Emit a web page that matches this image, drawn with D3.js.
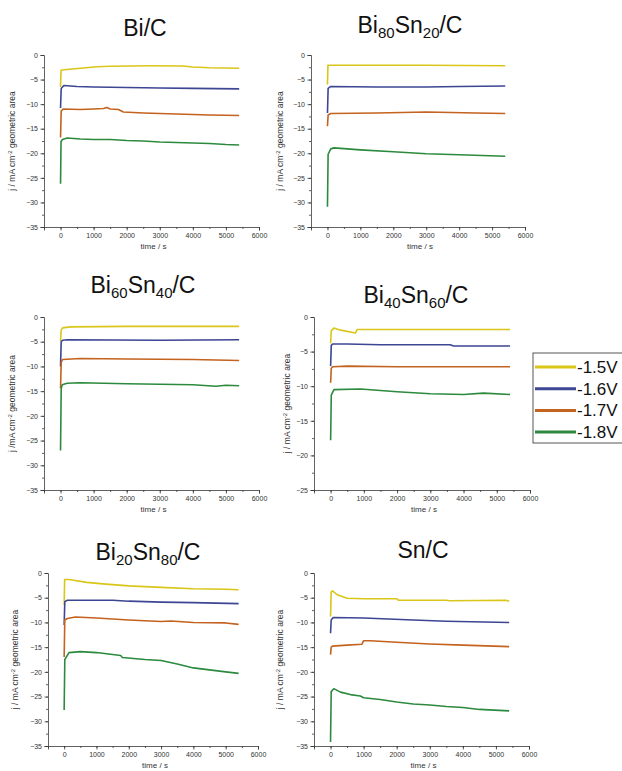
<!DOCTYPE html>
<html lang="en">
<head>
<meta charset="utf-8" />
<style>
  body { margin: 0; background: #fff; }
  text { font-family: "Liberation Sans", Arial, sans-serif; }
  .axis path, .axis line { stroke: #3a3a3a; stroke-width: 0.8; }
  .axis text { fill: #333; font-size: 7px; }
  .series { fill: none; stroke-width: 1.6; stroke-linejoin: round; }
</style>
</head>
<body>
<svg width="622" height="771"></svg>
<script src="https://d3js.org/d3.v7.min.js"></script>
<script>
var potentials = ["-1.5V", "-1.6V", "-1.7V", "-1.8V"],
    colors = ["#d9c619", "#3c4693", "#c4621f", "#2c8a3e"],
    timeTicks = [0, 1000, 2000, 3000, 4000, 5000, 6000];

// each series: [time / s, j / mA cm-2], order -1.5, -1.6, -1.7, -1.8 V
var biC = [
  [[0,-6.5],[15,-3.1],[100,-3.0],[600,-2.7],[1100,-2.4],[1500,-2.3],[2700,-2.2],[3700,-2.25],[4000,-2.45],[4500,-2.6],[5400,-2.7]],
  [[0,-10.8],[20,-6.8],[100,-6.2],[500,-6.4],[1000,-6.5],[2000,-6.6],[3000,-6.7],[4000,-6.8],[5400,-6.9]],
  [[0,-16.8],[20,-11.4],[80,-11.0],[600,-11.1],[1000,-11.0],[1300,-10.9],[1400,-10.7],[1500,-11.0],[1750,-11.1],[1900,-11.6],[2500,-11.8],[3000,-11.9],[3500,-12.0],[4000,-12.1],[4500,-12.2],[5400,-12.3]],
  [[0,-26.2],[15,-17.6],[60,-17.2],[200,-16.9],[600,-17.1],[1000,-17.2],[1500,-17.2],[2000,-17.4],[2500,-17.5],[3000,-17.7],[3500,-17.8],[4000,-17.9],[4500,-18.0],[5000,-18.2],[5400,-18.3]]
];

var bi80sn20 = [
  [[0,-6.0],[15,-2.1],[1000,-2.1],[3000,-2.1],[5400,-2.2]],
  [[0,-11.8],[20,-6.8],[100,-6.4],[1500,-6.5],[3000,-6.5],[4000,-6.4],[5400,-6.3]],
  [[0,-14.5],[20,-12.2],[100,-11.9],[1500,-11.8],[3000,-11.6],[4500,-11.8],[5400,-11.9]],
  [[0,-30.9],[20,-20.2],[100,-19.1],[200,-18.9],[1000,-19.3],[2000,-19.7],[3000,-20.1],[4000,-20.3],[5400,-20.6]]
];

var bi60sn40 = [
  [[0,-4.9],[20,-2.6],[60,-2.2],[300,-2.0],[2000,-1.9],[5400,-1.9]],
  [[0,-10.0],[20,-5.0],[60,-4.7],[200,-4.6],[3000,-4.7],[5400,-4.6]],
  [[0,-14.4],[20,-9.2],[60,-8.6],[600,-8.4],[2000,-8.5],[4000,-8.6],[5400,-8.8]],
  [[0,-27.0],[20,-14.5],[50,-13.7],[200,-13.4],[600,-13.3],[2000,-13.5],[3000,-13.6],[4000,-13.7],[4700,-14.0],[5000,-13.8],[5400,-13.9]]
];

var bi40sn60 = [
  [[0,-3.8],[20,-2.0],[100,-1.6],[300,-1.9],[750,-2.3],[800,-1.8],[5400,-1.8]],
  [[0,-7.1],[20,-4.1],[60,-3.9],[500,-3.9],[1500,-4.0],[3600,-4.0],[3700,-4.2],[5400,-4.2]],
  [[0,-9.5],[20,-7.4],[60,-7.2],[500,-7.1],[2000,-7.2],[5400,-7.2]],
  [[0,-17.8],[20,-11.3],[100,-10.5],[900,-10.4],[2000,-10.8],[3000,-11.1],[4000,-11.2],[4600,-11.0],[5400,-11.2]]
];

var bi20sn80 = [
  [[0,-6.5],[15,-1.3],[150,-1.3],[700,-1.9],[1200,-2.2],[2000,-2.6],[3000,-2.9],[4000,-3.2],[5000,-3.3],[5400,-3.4]],
  [[0,-10.5],[20,-5.8],[100,-5.5],[1500,-5.5],[2000,-5.7],[3000,-5.9],[4000,-6.0],[5400,-6.2]],
  [[0,-17.0],[20,-9.5],[100,-9.2],[350,-8.9],[1000,-9.1],[2000,-9.5],[3000,-9.8],[3300,-9.7],[4000,-10.0],[5000,-10.1],[5400,-10.4]],
  [[0,-27.7],[20,-17.5],[150,-16.1],[500,-15.9],[1000,-16.1],[1500,-16.5],[1750,-16.7],[1800,-17.1],[2500,-17.5],[3000,-17.7],[3500,-18.4],[4000,-19.2],[4500,-19.6],[5000,-20.0],[5400,-20.3]]
];

var snC = [
  [[0,-8.8],[20,-3.8],[60,-3.6],[200,-4.4],[500,-5.1],[1000,-5.2],[2000,-5.2],[2050,-5.5],[3500,-5.5],[3600,-5.6],[5300,-5.5],[5400,-5.7]],
  [[0,-12.2],[20,-9.5],[80,-9.0],[1000,-9.1],[2500,-9.5],[3500,-9.75],[5400,-10.0]],
  [[0,-16.5],[20,-15.0],[60,-14.8],[500,-14.6],[950,-14.4],[1000,-13.7],[1200,-13.7],[2000,-14.0],[3000,-14.35],[4000,-14.6],[5400,-14.9]],
  [[0,-34.2],[20,-24.0],[100,-23.4],[300,-24.1],[600,-24.6],[900,-24.9],[1000,-25.25],[1500,-25.6],[2000,-26.1],[2500,-26.5],[3000,-26.7],[3500,-27.0],[4000,-27.2],[4500,-27.6],[5400,-27.9]]
];

// title pieces: [text, subscript?]
var titles = [
  [["Bi/C", 0]],
  [["Bi", 0], ["80", 1], ["Sn", 0], ["20", 1], ["/C", 0]],
  [["Bi", 0], ["60", 1], ["Sn", 0], ["40", 1], ["/C", 0]],
  [["Bi", 0], ["40", 1], ["Sn", 0], ["60", 1], ["/C", 0]],
  [["Bi", 0], ["20", 1], ["Sn", 0], ["80", 1], ["/C", 0]],
  [["Sn/C", 0]]
];

var panels = [
  { data: biC,      title: titles[0], left: 44,  right: 259, top: 55,  bottom: 227, ymin: -35, tx: 145, ty: 36,  lx: 15,  lab: "j / mA cm" },
  { data: bi80sn20, title: titles[1], left: 311, right: 525, top: 55,  bottom: 227, ymin: -35, tx: 410, ty: 33,  lx: 283, lab: "j / mA cm" },
  { data: bi60sn40, title: titles[2], left: 44,  right: 259, top: 317, bottom: 490, ymin: -35, tx: 143, ty: 293, lx: 15,  lab: "j /mA cm" },
  { data: bi40sn60, title: titles[3], left: 314, right: 530, top: 317, bottom: 490, ymin: -25, tx: 416, ty: 303, lx: 290, lab: "j / mA cm" },
  { data: bi20sn80, title: titles[4], left: 48,  right: 258, top: 573, bottom: 746, ymin: -35, tx: 148, ty: 560, lx: 18,  lab: "j / mA cm" },
  { data: snC,      title: titles[5], left: 314, right: 529, top: 573, bottom: 746, ymin: -35, tx: 423, ty: 558, lx: 283, lab: "j / mA cm" }
];

var svg = d3.select("svg");

panels.forEach(function(p) {
  var x = d3.scaleLinear().domain([-500, 6000]).range([p.left, p.right]),
      y = d3.scaleLinear().domain([0, p.ymin]).range([p.top, p.bottom]),
      g = svg.append("g");

  // minor ticks first, then majors with labels
  g.append("g").attr("class", "axis")
    .attr("transform", "translate(0," + p.bottom + ")")
    .call(d3.axisBottom(x).tickValues(d3.range(-500, 6001, 500)).tickSize(2).tickFormat(""))
    .select(".domain").remove();
  g.append("g").attr("class", "axis")
    .attr("transform", "translate(0," + p.bottom + ")")
    .call(d3.axisBottom(x).tickValues(timeTicks).tickSizeOuter(0).tickSize(3.5).tickPadding(3).tickFormat(d3.format("d")));

  g.append("g").attr("class", "axis")
    .attr("transform", "translate(" + p.left + ",0)")
    .call(d3.axisLeft(y).tickValues(d3.range(0, p.ymin - 0.1, -2.5)).tickSize(2).tickFormat(""))
    .select(".domain").remove();
  g.append("g").attr("class", "axis")
    .attr("transform", "translate(" + p.left + ",0)")
    .call(d3.axisLeft(y).tickValues(d3.range(0, p.ymin - 0.1, -5)).tickSizeOuter(0).tickSize(3.5).tickPadding(2.5).tickFormat(d3.format("d")));

  var line = d3.line().x(function(d) { return x(d[0]); }).y(function(d) { return y(d[1]); });

  g.selectAll("path.series")
    .data(p.data)
    .enter()
    .append("path")
    .attr("class", "series")
    .attr("d", line)
    .style("stroke", function(d, i) { return colors[i]; });

  // title
  var t = g.append("text")
    .attr("x", p.tx).attr("y", p.ty)
    .attr("text-anchor", "middle")
    .style("font-size", "23px").style("fill", "#111");
  p.title.forEach(function(part, i) {
    var prevSub = i > 0 && p.title[i - 1][1];
    t.append("tspan")
      .attr("dy", part[1] ? 5 : (prevSub ? -5 : 0))
      .style("font-size", part[1] ? "15px" : "23px")
      .text(part[0]);
  });

  // axis labels
  g.append("text")
    .attr("x", (p.left + p.right) / 2 + 2).attr("y", p.bottom + 22)
    .attr("text-anchor", "middle")
    .style("font-size", "8px").style("fill", "#333")
    .text("time / s");

  var yl = g.append("text")
    .attr("transform", "translate(" + p.lx + "," + (p.top + p.bottom) / 2 + ") rotate(-90)")
    .attr("text-anchor", "middle")
    .style("font-size", "8.5px").style("fill", "#333");
  yl.append("tspan").text(p.lab);
  yl.append("tspan").attr("dy", -3).style("font-size", "6px").text("-2");
  yl.append("tspan").attr("dy", 3).text(" geometric area");
});

// legend
var legend = svg.append("g").attr("transform", "translate(533,353)");
legend.append("rect")
  .attr("width", 95).attr("height", 90)
  .style("fill", "#fff").style("stroke", "#444").style("stroke-width", 0.9);

var items = legend.selectAll("g.item")
  .data(potentials)
  .enter()
  .append("g")
  .attr("transform", function(d, i) { return "translate(0," + (14 + i * 21.7) + ")"; });

items.append("line")
  .attr("x1", 2).attr("x2", 43)
  .style("stroke", function(d, i) { return colors[i]; })
  .style("stroke-width", 3);

items.append("text")
  .attr("x", 44).attr("y", 6)
  .style("font-size", "17px").style("fill", "#111")
  .text(function(d) { return d; });
</script>
</body>
</html>
